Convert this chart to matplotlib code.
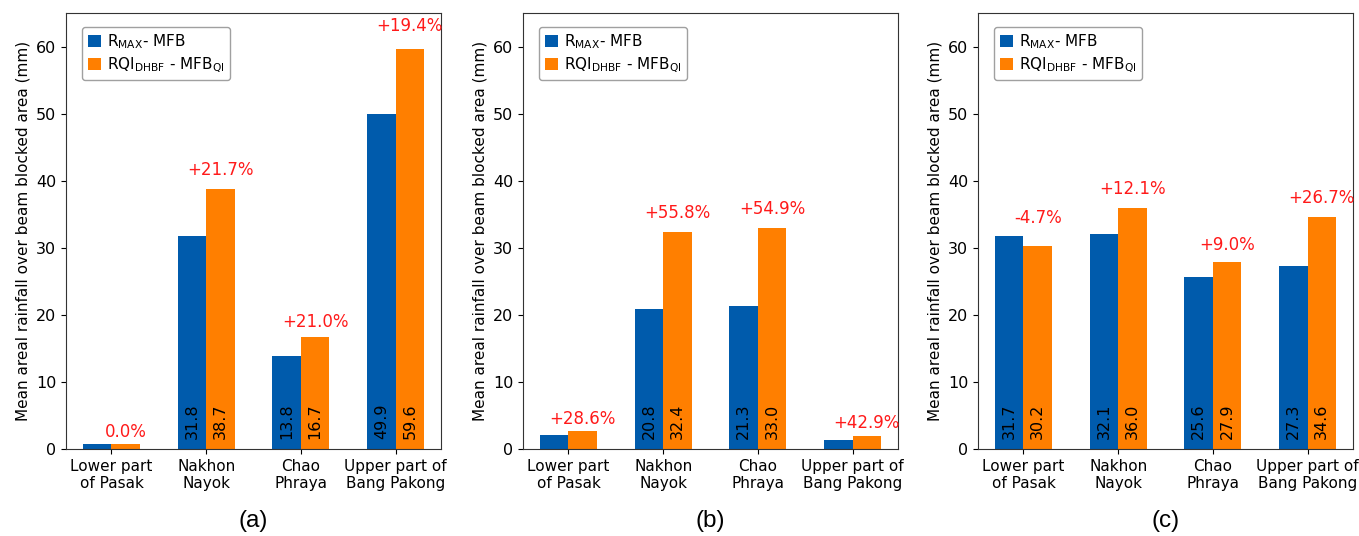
import matplotlib
matplotlib.use('Agg')
import matplotlib.pyplot as plt
import numpy as np

categories = ['Lower part\nof Pasak', 'Nakhon\nNayok', 'Chao\nPhraya', 'Upper part of\nBang Pakong']
panel_names = ['(a)', '(b)', '(c)']

rmax_mfb = [
    [0.8, 31.8, 13.8, 49.9],
    [2.1, 20.8, 21.3, 1.4],
    [31.7, 32.1, 25.6, 27.3],
]
rqi_mfb_qi = [
    [0.8, 38.7, 16.7, 59.6],
    [2.7, 32.4, 33.0, 2.0],
    [30.2, 36.0, 27.9, 34.6],
]
change_labels = [
    ['0.0%', '+21.7%', '+21.0%', '+19.4%'],
    ['+28.6%', '+55.8%', '+54.9%', '+42.9%'],
    ['-4.7%', '+12.1%', '+9.0%', '+26.7%'],
]
# which bars get the value written inside
show_values = [
    [False, True, True, True],
    [False, True, True, False],
    [True, True, True, True],
]

BLUE = '#005BAC'
ORANGE = '#FF7F00'
width = 0.3

fig = plt.figure(figsize=(13.59, 5.36), dpi=100)
lefts = [66, 523, 978]
ax_w = 375 / 1359
ax_b = 1 - 449 / 536
ax_h = (449 - 13) / 536

x = np.arange(len(categories))

for i in range(3):
    ax = fig.add_axes([lefts[i] / 1359, ax_b, ax_w, ax_h])
    ax.bar(x - width / 2, rmax_mfb[i], width, color=BLUE,
           label=r'R$_\mathregular{MAX}$- MFB')
    ax.bar(x + width / 2, rqi_mfb_qi[i], width, color=ORANGE,
           label=r'RQI$_\mathregular{DHBF}$ - MFB$_\mathregular{QI}$')

    for j in range(len(categories)):
        if show_values[i][j]:
            ax.text(x[j] - width / 2, 1.5, '%.1f' % rmax_mfb[i][j], rotation=90,
                    ha='center', va='bottom', fontsize=11.5)
            ax.text(x[j] + width / 2, 1.5, '%.1f' % rqi_mfb_qi[i][j], rotation=90,
                    ha='center', va='bottom', fontsize=11.5)
        top = max(rmax_mfb[i][j], rqi_mfb_qi[i][j])
        ax.text(x[j] + width / 2, top * 1.03 + 1.0, change_labels[i][j],
                ha='center', va='baseline', color='#FF1A1A', fontsize=12)

    ax.set_ylim(0, 65)
    ax.set_yticks([0, 10, 20, 30, 40, 50, 60])
    ax.set_xticks(x)
    ax.set_xticklabels(categories, fontsize=11)
    ax.tick_params(axis='y', labelsize=11.5)
    ax.set_ylabel('Mean areal rainfall over beam blocked area (mm)', fontsize=11)
    for s in ax.spines.values():
        s.set_color('#333333')
    ax.legend(loc='upper left', fontsize=11, handlelength=0.9, handleheight=0.9,
              handletextpad=0.4, borderpad=0.35, labelspacing=0.3,
              bbox_to_anchor=(0.035, 0.975), borderaxespad=0.2, edgecolor='#888888')

    fig.text((lefts[i] + 375 / 2) / 1359, 1 - 521 / 536, panel_names[i],
             ha='center', va='center', fontsize=17.5, family='Liberation Sans')

fig.savefig('out.png', dpi=100)
